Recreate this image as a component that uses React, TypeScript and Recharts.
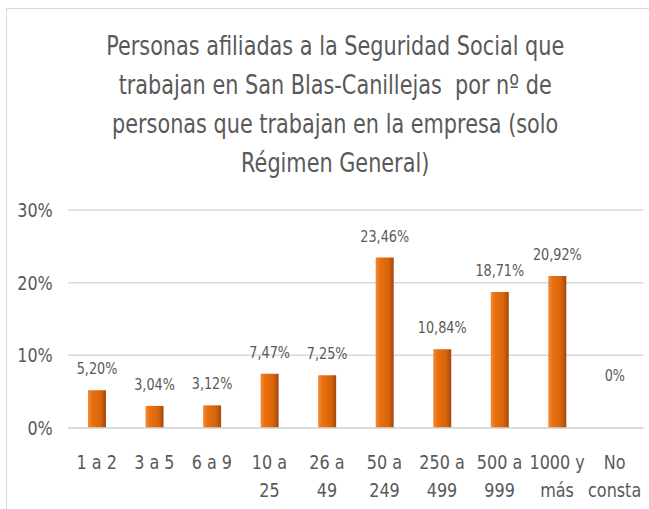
import { BarChart, Bar, XAxis, YAxis, CartesianGrid, LabelList } from "recharts";

// Company size bands (line break = second label line)
const categories = [
  "1 a 2",
  "3 a 5",
  "6 a 9",
  "10 a\n25",
  "26 a\n49",
  "50 a\n249",
  "250 a\n499",
  "500 a\n999",
  "1000 y\nmás",
  "No\nconsta",
];

// % of affiliated workers (Régimen General)
const shares = [5.2, 3.04, 3.12, 7.47, 7.25, 23.46, 10.84, 18.71, 20.92, 0];

const yTicks = [0, 10, 20, 30];

const titleLines = [
  "Personas afiliadas a la Seguridad Social que",
  "trabajan en San Blas-Canillejas  por nº de",
  "personas que trabajan en la empresa (solo",
  "Régimen General)",
];

const data = categories.map((name, i) => ({ name, value: shares[i] }));

// the original is horizontally squeezed, so everything is drawn wider and scaled down
const SQUEEZE = 0.8;
const W = 649 / SQUEEZE;
const H = 509;
const FONT = "'DejaVu Sans', Verdana, sans-serif";
const TEXT = "#595959";

const fmtPct = (v: number) => (v === 0 ? "0%" : v.toFixed(2).replace(".", ",") + "%");

const CategoryTick = ({ x, y, payload }: any) => {
  const lines = String(payload.value).split("\n");
  return (
    <g transform={`translate(${x},${y})`}>
      {lines.map((line, i) => (
        <text
          key={i}
          x={0}
          y={41 + i * 28}
          textAnchor="middle"
          fill={TEXT}
          fontSize={20}
          fontFamily={FONT}
        >
          {line}
        </text>
      ))}
    </g>
  );
};

const ValueLabel = (props: any) => {
  const { x, y, width, value } = props;
  const v = Number(value);
  // Excel put the empty "No consta" label higher up
  const lift = v === 0 ? 47 : 16;
  return (
    <text
      x={Number(x) + Number(width) / 2}
      y={Number(y) - lift}
      textAnchor="middle"
      fill={TEXT}
      fontSize={16}
      fontFamily={FONT}
    >
      {fmtPct(v)}
    </text>
  );
};

export default function App() {
  return (
    <div
      style={{
        position: "fixed",
        left: 0,
        top: 0,
        width: 649,
        height: H,
        overflow: "hidden",
        background: "#fff",
      }}
    >
      {/* chart frame */}
      <div
        style={{
          position: "absolute",
          left: 6,
          top: 8,
          width: 643,
          height: 501,
          borderLeft: "1.5px solid #D9D9D9",
          borderTop: "1.5px solid #D9D9D9",
        }}
      />
      <div
        style={{
          position: "absolute",
          left: 0,
          top: 0,
          width: W,
          height: H,
          transform: `scaleX(${SQUEEZE})`,
          transformOrigin: "0 0",
        }}
      >
        <div
          style={{
            position: "absolute",
            left: 0,
            top: 27,
            width: 838,
            textAlign: "center",
            fontFamily: FONT,
            fontSize: 26,
            lineHeight: "39px",
            color: TEXT,
            whiteSpace: "pre",
          }}
        >
          {titleLines.map((t, i) => (
            <div key={i}>{t}</div>
          ))}
        </div>
        <BarChart
          width={W}
          height={H}
          data={data}
          margin={{ top: 210, right: 7, left: 0, bottom: 0 }}
        >
          <defs>
            <linearGradient id="barFill" x1="0" y1="0" x2="1" y2="0">
              <stop offset="0%" stopColor="#F28A3C" />
              <stop offset="25%" stopColor="#E8700F" />
              <stop offset="70%" stopColor="#D9650B" />
              <stop offset="100%" stopColor="#A4480C" />
            </linearGradient>
          </defs>
          <CartesianGrid vertical={false} stroke="#D9D9D9" strokeWidth={1.5} />
          <XAxis
            dataKey="name"
            interval={0}
            height={81}
            axisLine={{ stroke: "#D9D9D9", strokeWidth: 1.5 }}
            tickLine={false}
            tickSize={0}
            tickMargin={0}
            tick={<CategoryTick />}
          />
          <YAxis
            width={85}
            domain={[0, 30]}
            ticks={yTicks}
            axisLine={false}
            tickLine={false}
            tickSize={0}
            tickMargin={19}
            tickFormatter={(v: number) => `${v}%`}
            tick={{ fill: TEXT, fontSize: 20, fontFamily: FONT }}
          />
          <Bar
            dataKey="value"
            fill="url(#barFill)"
            barSize={22.5}
            minPointSize={0.01}
            isAnimationActive={false}
          >
            <LabelList dataKey="value" content={<ValueLabel />} />
          </Bar>
        </BarChart>
      </div>
    </div>
  );
}
